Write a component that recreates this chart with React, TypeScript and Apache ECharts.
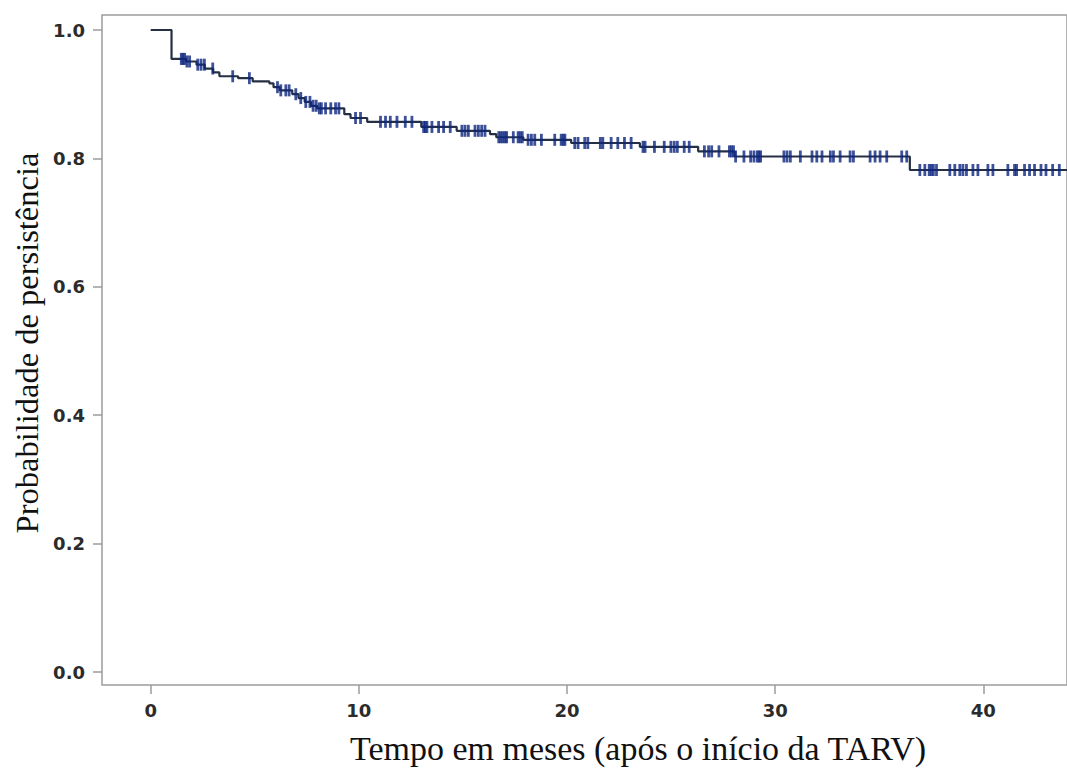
import React, { useEffect, useRef } from "react";
import * as echarts from "echarts";

// Kaplan–Meier estimate: event times (months) and survival after each step
const stepTimes = [0, 1.0, 1.7, 2.2, 2.6, 3.0, 3.3, 4.2, 4.9, 5.7, 5.9, 6.2, 6.8, 7.1, 7.4, 7.7, 8.0, 9.3, 9.6, 10.4, 13.0, 14.7, 16.3, 16.6, 17.9, 20.2, 23.5, 26.3, 28.05, 36.47];
const stepSurvival = [1.0, 0.955, 0.951, 0.946, 0.94, 0.934, 0.928, 0.925, 0.92, 0.917, 0.911, 0.906, 0.9, 0.894, 0.888, 0.882, 0.878, 0.869, 0.863, 0.857, 0.849, 0.843, 0.838, 0.833, 0.829, 0.824, 0.818, 0.811, 0.803, 0.782];
const followUpEnd = 44.5;

// Censored observations (months)
const censorTimes = [
  1.47, 1.55, 1.63, 1.74, 1.87, 2.26, 2.42, 2.58, 2.98, 3.94, 4.74, 6.09, 6.25, 6.49, 6.65, 6.97, 7.21, 7.45,
  7.65, 7.8, 7.95, 8.1, 8.2, 8.4, 8.65, 8.88, 9.04, 9.84, 10.08, 11.04, 11.28, 11.51, 11.83,
  12.23, 12.55, 13.11, 13.19, 13.27, 13.51, 13.83, 14.07, 14.39, 14.95, 15.1, 15.26, 15.58, 15.74, 15.9, 16.06,
  16.72, 16.82, 16.92, 17.02, 17.1, 17.42, 17.65, 17.75, 17.85, 18.13, 18.29, 18.45, 18.77, 19.41, 19.72, 19.82,
  19.9, 20.37, 20.53, 20.85, 21.0, 21.6, 21.72, 22.12, 22.44, 22.76, 23.08, 23.65, 23.75, 24.2, 24.67, 24.99,
  25.15, 25.3, 25.63, 25.87, 26.6, 26.8, 26.95, 27.3, 27.8, 27.9, 28.0, 28.1, 28.5, 28.82, 28.98, 29.14, 29.22,
  29.3, 30.42, 30.57, 30.73, 31.21, 31.77, 32.0, 32.25, 32.65, 32.8, 33.12, 33.6, 33.76, 34.56, 34.8, 35.04,
  35.36, 36.08, 36.32, 36.95, 37.19, 37.4, 37.5, 37.6, 37.75, 38.39, 38.63, 38.87, 39.02, 39.19, 39.5, 39.74,
  40.22, 40.46, 41.18, 41.5, 41.6, 41.98, 42.22, 42.46, 42.77, 43.01, 43.33, 43.65,
];

const xTicks = [0, 10, 20, 30, 40];
const yTicks = [0, 0.2, 0.4, 0.6, 0.8, 1.0];

const xTitle = "Tempo em meses (após o início da TARV)";
const yTitle = "Probabilidade de persistência";

// Survival level in force at time t (right-continuous step function)
function survivalAt(t: number): number {
  let s = stepSurvival[0];
  for (let i = 0; i < stepTimes.length; i++) {
    if (stepTimes[i] <= t) s = stepSurvival[i];
  }
  return s;
}

export default function App() {
  const ref = useRef<HTMLDivElement>(null);

  useEffect(() => {
    if (!ref.current) return;
    const chart = echarts.init(ref.current, undefined, { renderer: "svg" });

    const curve = stepTimes.map((t, i) => [t, stepSurvival[i]]);
    curve.push([followUpEnd, stepSurvival[stepSurvival.length - 1]]);
    const censored = censorTimes.map((t) => [t, survivalAt(t)]);

    const axisGray = "#9c9c9c";
    const tickFont = {
      fontFamily: "'DejaVu Sans', Verdana, sans-serif",
      fontWeight: "bold" as const,
      fontSize: 18,
      color: "#2b2b2b",
    };

    chart.setOption({
      animation: false,
      backgroundColor: "#ffffff",
      grid: {
        left: 102,
        right: -4,
        top: 15,
        bottom: 85,
        show: true,
        borderColor: axisGray,
        borderWidth: 1.5,
        backgroundColor: "transparent",
      },
      xAxis: {
        type: "value",
        min: -2.34,
        max: 44.02,
        axisLine: { show: false, onZero: false },
        splitLine: { show: false },
        axisTick: {
          show: true,
          inside: false,
          customValues: xTicks,
          length: 9,
          lineStyle: { color: axisGray, width: 1.5 },
        },
        axisLabel: {
          customValues: xTicks,
          margin: 16,
          ...tickFont,
        },
      },
      yAxis: {
        type: "value",
        min: -0.0202,
        max: 1.0234,
        axisLine: { show: false, onZero: false },
        splitLine: { show: false },
        axisTick: {
          show: true,
          inside: false,
          customValues: yTicks,
          length: 9,
          lineStyle: { color: axisGray, width: 1.5 },
        },
        axisLabel: {
          customValues: yTicks,
          margin: 17,
          formatter: (v: number) => v.toFixed(1),
          ...tickFont,
        },
      },
      series: [
        {
          type: "line",
          step: "end",
          data: curve,
          showSymbol: false,
          symbol: "none",
          clip: true,
          lineStyle: { color: "#263044", width: 2.2 },
          z: 2,
        },
        {
          type: "scatter",
          data: censored,
          symbol: "rect",
          symbolSize: [2.8, 12],
          clip: true,
          itemStyle: { color: "#0c2680" },
          z: 3,
        },
      ],
      graphic: [
        {
          type: "text",
          x: 638,
          y: 748,
          style: {
            text: xTitle,
            font: "34px 'Liberation Serif', 'Times New Roman', serif",
            fill: "#111111",
            textAlign: "center",
            textVerticalAlign: "middle",
          },
        },
        {
          type: "text",
          x: 27,
          y: 343,
          rotation: Math.PI / 2,
          style: {
            text: yTitle,
            font: "32.5px 'Liberation Serif', 'Times New Roman', serif",
            fill: "#111111",
            textAlign: "center",
            textVerticalAlign: "middle",
          },
        },
      ],
    });

    return () => chart.dispose();
  }, []);

  return (
    <div
      ref={ref}
      style={{ position: "fixed", left: 0, top: 0, width: 1067, height: 770 }}
    />
  );
}
